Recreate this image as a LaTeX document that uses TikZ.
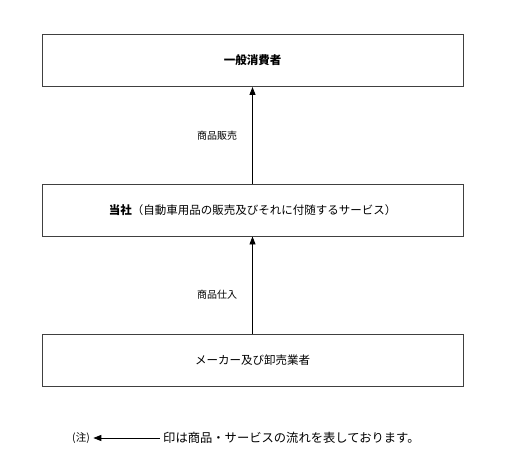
\documentclass[tikz,border=0pt]{standalone}
\usepackage{fontspec}
\setmainfont{Noto Sans CJK JP}
\usetikzlibrary{arrows.meta}
\usetikzlibrary{quotes}

\tikzset{
  box/.style={draw=black!75, line width=0.9pt, minimum width=421pt, minimum height=52pt,
    font=\fontsize{11.5}{14}\selectfont},
  flow/.style={-{Triangle[length=8pt,width=6pt]}, line width=0.9pt},
}

\begin{document}
\begin{tikzpicture}[x=1pt,y=-1pt,
    every edge quotes/.style={font=\fontsize{10}{12}\selectfont, auto=left, inner xsep=15pt}]

    \useasboundingbox (0,0) rectangle (508,454);

    \node[box] (consumer) at (252.5, 60.5) {\bfseries 一般消費者};
    \node[box] (company)  at (252.5, 210)  {\textbf{当社}（自動車用品の販売及びそれに付随するサービス）};
    \node[box] (maker)    at (252.5, 360)  {メーカー及び卸売業者};

    \draw (company) edge["商品販売" {name=salelabel}, flow] (consumer);
    \draw (maker) edge["商品仕入" {name=buylabel, pos=.4}, flow] (company);

    % legend
    \node (note) at (81, 438) {\fontsize{10.5}{12}\selectfont (注)};
    \node[anchor=west] (legendtext) at (159.7, 438) {\fontsize{12.3}{14}\selectfont 印は商品・サービスの流れを表しております。};
    \draw[flow] (legendtext.west) -- (note.east);
  \end{tikzpicture}
\end{document}
